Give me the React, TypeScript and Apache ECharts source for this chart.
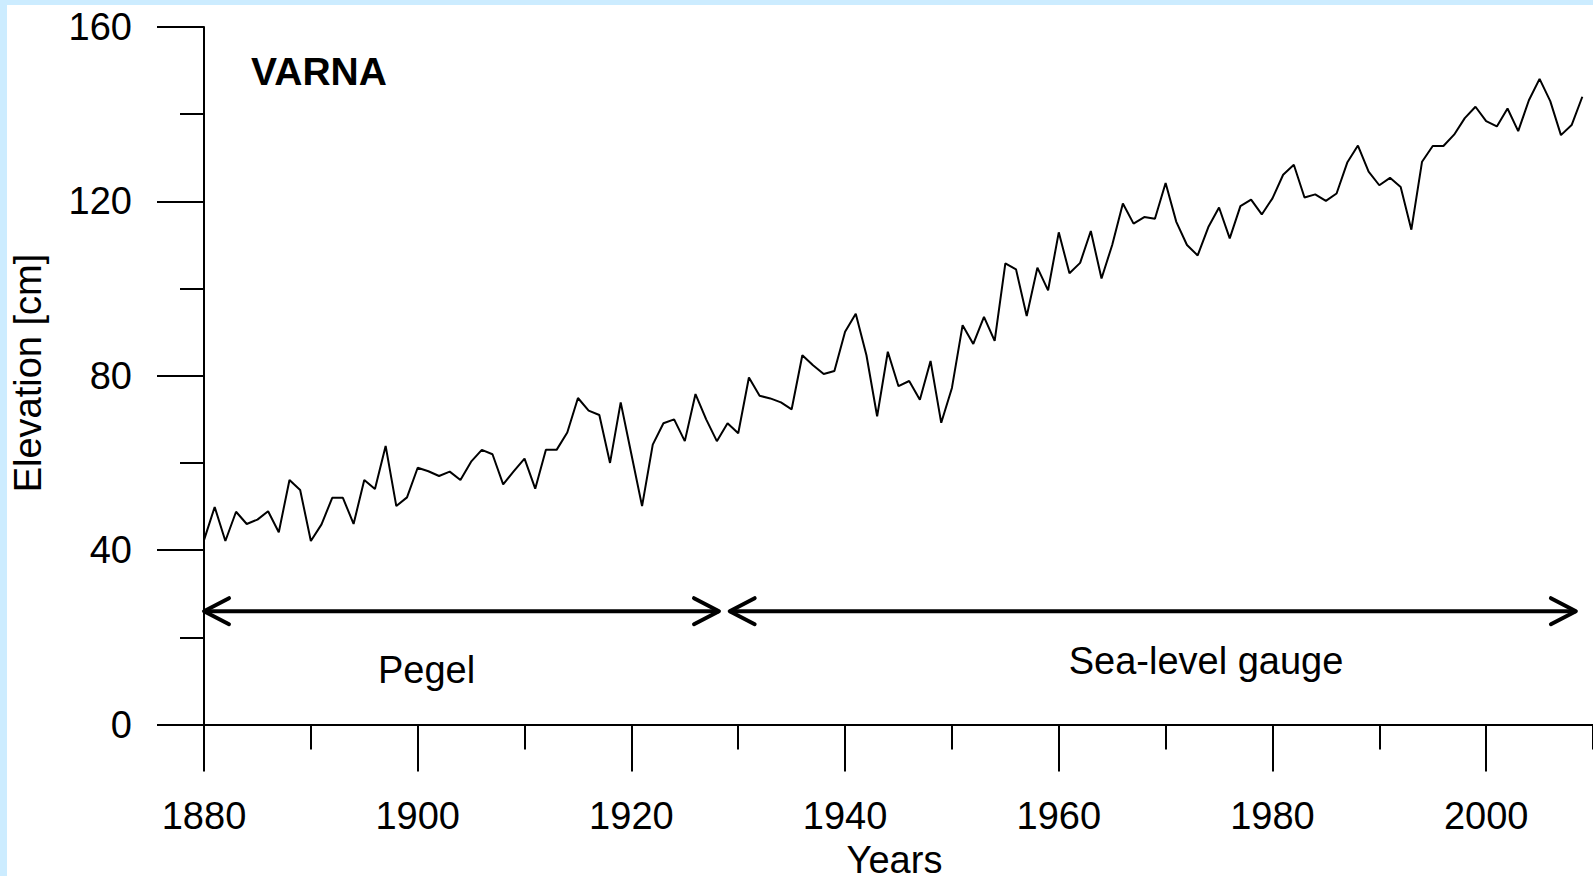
import React, { useEffect, useRef } from "react";
import * as echarts from "echarts";

const startYear = 1880;
const elevation = [
  42.3, 49.9, 42.1, 48.8, 46.0, 47.0, 48.9, 44.1, 56.1, 53.8,
  42.1, 45.9, 52.0, 52.0, 46.0, 56.1, 54.0, 63.9, 50.1, 52.1,
  58.9, 58.1, 57.0, 58.0, 56.1, 60.3, 63.0, 62.0, 55.1, 58.1,
  61.0, 54.1, 63.0, 63.0, 67.0, 74.9, 72.0, 71.0, 60.0, 73.9,
  62.0, 50.1, 64.2, 69.1, 70.0, 65.0, 75.8, 70.0, 65.0, 69.1,
  66.8, 79.6, 75.4, 74.8, 73.9, 72.3, 84.7, 82.4, 80.4, 81.1,
  90.1, 94.2, 84.7, 70.7, 85.5, 77.6, 78.8, 74.5, 83.4, 69.2,
  77.2, 91.6, 87.3, 93.5, 88.0, 105.8, 104.4, 93.7, 104.8, 99.6,
  112.9, 103.5, 105.9, 113.2, 102.3, 110.0, 119.5, 114.9, 116.4, 116.0,
  124.2, 115.3, 110.0, 107.6, 114.1, 118.6, 111.5, 118.9, 120.4, 117.0,
  120.7, 126.1, 128.4, 120.9, 121.6, 120.1, 121.8, 128.9, 132.8, 126.8,
  123.7, 125.4, 123.3, 113.5, 129.1, 132.7, 132.7, 135.3, 139.1, 141.7,
  138.4, 137.2, 141.3, 136.1, 143.2, 148.1, 143.0, 135.2, 137.5, 144.0,
];

// [from year, to year, elevation level]
const periodArrows = [
  [1880, 1928.2, 26],
  [1929.2, 2008.4, 26],
];
const periodNames = ["Pegel", "Sea-level gauge"];
const stationName = "VARNA";
const xAxisName = "Years";
const yAxisName = "Elevation [cm]";

const FONT = '"Liberation Sans", Arial, sans-serif';

export default function App() {
  const ref = useRef<HTMLDivElement>(null);

  useEffect(() => {
    document.body.style.margin = "0";
    const chart = echarts.init(ref.current!, null, { renderer: "svg" });
    const lineData = elevation.map((v, i) => [startYear + i, v]);
    const tickStyle = { color: "#000", width: 2 };
    chart.setOption({
      animation: false,
      backgroundColor: "transparent",
      grid: { left: 204, top: 27, right: -3, bottom: 151.5, containLabel: false },
      xAxis: [
        {
          type: "value",
          min: 1880,
          max: 2010,
          interval: 20,
          position: "bottom",
          axisLine: { show: true, onZero: false, lineStyle: tickStyle },
          axisTick: { show: true, length: 47, lineStyle: tickStyle },
          axisLabel: {
            margin: 72,
            fontSize: 38,
            fontFamily: FONT,
            color: "#000",
            showMaxLabel: false,
            formatter: (v: number) => (v % 20 === 0 && v <= 2000 ? String(v) : ""),
          },
          splitLine: { show: false },
        },
        {
          type: "value",
          min: 1880,
          max: 2010,
          interval: 10,
          position: "bottom",
          axisLine: { show: false, onZero: false },
          axisTick: { show: true, length: 25, lineStyle: tickStyle },
          axisLabel: { show: false },
          splitLine: { show: false },
        },
      ],
      yAxis: {
        type: "value",
        min: 0,
        max: 160,
        interval: 40,
        axisLine: { show: true, onZero: false, lineStyle: tickStyle },
        axisTick: { show: true, length: 47, lineStyle: tickStyle },
        minorTick: { show: true, splitNumber: 2, length: 24, lineStyle: tickStyle },
        axisLabel: { margin: 72, fontSize: 38, fontFamily: FONT, color: "#000" },
        splitLine: { show: false },
        minorSplitLine: { show: false },
      },
      series: [
        {
          type: "line",
          xAxisIndex: 0,
          data: lineData,
          symbol: "none",
          showSymbol: false,
          lineStyle: { color: "#000", width: 2 },
          silent: true,
        },
        {
          type: "custom",
          xAxisIndex: 0,
          data: periodArrows,
          encode: { x: [0, 1], y: 2 },
          silent: true,
          renderItem: (params: any, api: any) => {
            const p1 = api.coord([api.value(0), api.value(2)]);
            const p2 = api.coord([api.value(1), api.value(2)]);
            const ah = 25;
            const aw = 13;
            const st = { stroke: "#000", fill: "none", lineWidth: 4, lineCap: "round", lineJoin: "round" };
            return {
              type: "group",
              children: [
                { type: "line", shape: { x1: p1[0], y1: p1[1], x2: p2[0], y2: p2[1] }, style: { stroke: "#000", lineWidth: 4 } },
                { type: "polyline", shape: { points: [[p1[0] + ah, p1[1] - aw], [p1[0], p1[1]], [p1[0] + ah, p1[1] + aw]] }, style: st },
                { type: "polyline", shape: { points: [[p2[0] - ah, p2[1] - aw], [p2[0], p2[1]], [p2[0] - ah, p2[1] + aw]] }, style: st },
              ],
            };
          },
        },
      ],
      graphic: [
        {
          type: "text",
          x: 319,
          y: 71.7,
          style: { text: stationName, font: `bold 39px ${FONT}`, fill: "#000", align: "center", verticalAlign: "middle" },
        },
        {
          type: "text",
          x: 426.5,
          y: 669.7,
          style: { text: periodNames[0], font: `38px ${FONT}`, fill: "#000", align: "center", verticalAlign: "middle" },
        },
        {
          type: "text",
          x: 1206,
          y: 661.2,
          style: { text: periodNames[1], font: `38px ${FONT}`, fill: "#000", align: "center", verticalAlign: "middle" },
        },
        {
          type: "text",
          x: 894.5,
          y: 860,
          style: { text: xAxisName, font: `38px ${FONT}`, fill: "#000", align: "center", verticalAlign: "middle" },
        },
        {
          type: "text",
          x: 27.8,
          y: 373,
          rotation: Math.PI / 2,
          style: { text: yAxisName, font: `38px ${FONT}`, fill: "#000", align: "center", verticalAlign: "middle" },
        },
      ],
    });
    return () => chart.dispose();
  }, []);

  return (
    <div style={{ position: "relative", width: 1593, height: 876, background: "#ccecff", overflow: "hidden" }}>
      <div style={{ position: "absolute", left: 7, top: 5, right: 0, bottom: 0, background: "#fff" }} />
      <div ref={ref} style={{ position: "absolute", left: 0, top: 0, width: 1593, height: 876 }} />
    </div>
  );
}
